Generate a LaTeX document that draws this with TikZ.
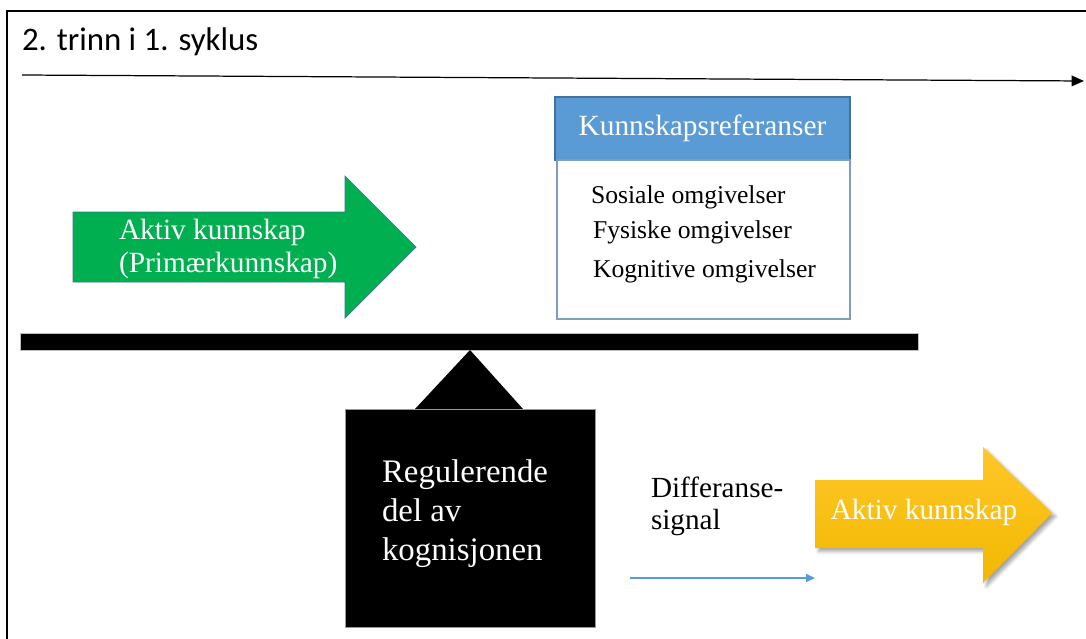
\documentclass[tikz,border=0pt]{standalone}
\usepackage{fontspec}
\setmainfont{Liberation Serif}
\newfontfamily\titlefont{Carlito}
\usetikzlibrary{arrows.meta, shadows.blur}
\definecolor{headblue}{HTML}{5B9BD5}
\definecolor{edgeblue}{HTML}{41719C}
\definecolor{boxedge}{HTML}{7F9DBF}
\definecolor{arrowgreen}{HTML}{00B050}
\definecolor{goldtop}{HTML}{FFC729}
\definecolor{goldbottom}{HTML}{F2B800}
\tikzset{
	x=0.02cm, y=-0.02cm, % one unit = one pixel of the layout
	>={Triangle[length=7pt, width=6pt]}, % filled arrow heads
	every node/.style={inner sep=0pt, outer sep=0pt},
	big/.style={font=\fontsize{16.7}{18.7}\selectfont}, % the large labels
	small/.style={font=\fontsize{14.6}{17}\selectfont}, % the list in the box
	light/.style={text=white},
}

\begin{document}
\begin{tikzpicture}
	\useasboundingbox (0,0) rectangle (1086,639);
	% frame and time line
	\draw[line width=0.85pt] (7,639) -- (7,11) -- (1086,11);
	\node[anchor=base west, font=\titlefont\fontsize{18.7}{22}\selectfont] (title) at (22,51) {2. trinn i 1. syklus};
	\coordinate (tstart) at (22,75);
	\coordinate (tend) at (1084,81);
	\draw[->, line width=0.7pt] (tstart) -- (tend);

	% knowledge references
	\node[draw=edgeblue, fill=headblue, line width=0.6pt, minimum width=295*0.02cm, minimum height=63*0.02cm, anchor=north west, light, big] (refhead) at (555,97) {Kunnskapsreferanser};
	\node[draw=boxedge, line width=0.6pt, minimum width=293*0.02cm, minimum height=159*0.02cm, anchor=north west] (refbody) at (557,160) {};
	\node[small, anchor=west] (social) at (591,197) {Sosiale omgivelser};
	\node[small, anchor=west] (physical) at (593,232) {Fysiske omgivelser};
	\node[small, anchor=west] (cognitive) at (593,271) {Kognitive omgivelser};

	% green block arrow
	\fill[arrowgreen, draw=edgeblue, line width=0.4pt] (73,212) -- (345,212) -- (345,176) -- (416,247) -- (345,318) -- (345,282) -- (73,282) -- cycle;
	\node[big, light, anchor=west, align=left, font=\fontsize{16.7}{18.7}\selectfont] (active) at (119,249) {Aktiv kunnskap\\(Primærkunnskap)};

	% balance beam and regulator
	\fill[black, draw=black!25, line width=0.5pt] (20,333) rectangle (918,350);
	\fill[black] (345,409) -- (415,409) -- (470,350) -- (523,409) -- (595,409) -- (595,627) -- (345,627) -- cycle;
	\draw[boxedge, line width=0.5pt] (345,409) rectangle (595,627);
	\node[light, anchor=west, align=left, font=\fontsize{18.7}{22.2}\selectfont] (regulator) at (382,514) {Regulerende\\del av\\kognisjonen};

	% difference signal
	\node[big, anchor=west, align=left, font=\fontsize{16.6}{18.1}\selectfont] (diff) at (651,506) {Differanse-\\signal};
	\coordinate (sstart) at (630,578);
	\coordinate (send) at (815,578);
	\draw[->, headblue, line width=0.8pt, >={Triangle[length=5pt, width=4.5pt]}] (sstart) -- (send);

	% yellow block arrow
	\path[top color=goldtop, bottom color=goldbottom, blur shadow={shadow xshift=2pt, shadow yshift=-2pt, shadow blur steps=6, shadow opacity=35}] (815,480) -- (983,480) -- (983,447) -- (1052,513) -- (983,583) -- (983,548) -- (815,548) -- cycle;
	\node[big, light, anchor=center] (result) at (924,512) {Aktiv kunnskap};
\end{tikzpicture}
\end{document}
